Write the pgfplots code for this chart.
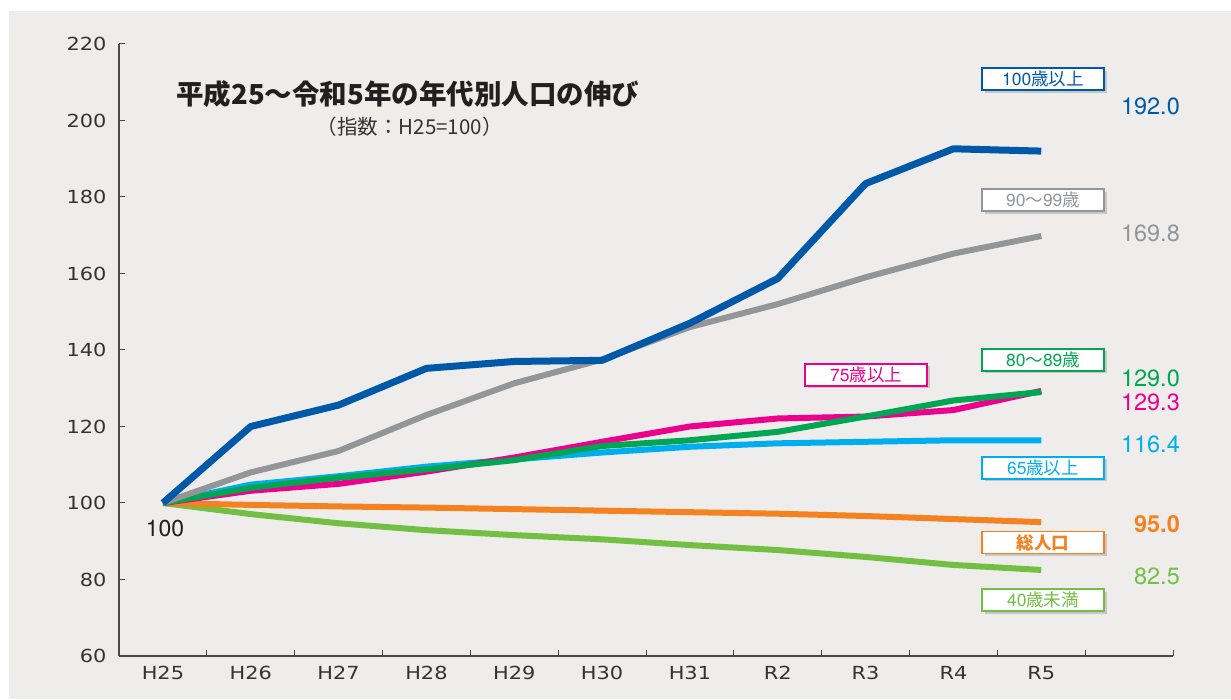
\documentclass[border=0pt]{standalone}
\usepackage{fontspec}
\usepackage{pgfplots}
\pgfplotsset{compat=1.18}
\usetikzlibrary{shadows}
\setmainfont{TeX Gyre Heros}
\newfontfamily\jp{Noto Sans CJK JP}
\newfontfamily\tickf[FakeStretch=1.16]{DejaVu Sans}
\definecolor{bg}{HTML}{EEEDEB}
\definecolor{cblue}{HTML}{0059A8}
\definecolor{cgray}{HTML}{939598}
\definecolor{cgreen}{HTML}{00A651}
\definecolor{cmag}{HTML}{EC008C}
\definecolor{ccyan}{HTML}{00AEEF}
\definecolor{corange}{HTML}{F58220}
\definecolor{clgreen}{HTML}{72BF44}
\definecolor{axisc}{HTML}{4A4A4A}
\definecolor{labc}{HTML}{333333}
\definecolor{titlec}{HTML}{231F20}
\newcommand{\lbox}[4]{\node[draw=#3, line width=1.5pt, fill=white, minimum width=122pt, minimum height=22pt, inner sep=0pt, text=#3, font=\fontsize{17.5}{18}\selectfont, drop shadow={shadow xshift=2.5pt, shadow yshift=-2.5pt, fill=black!40, opacity=0.45}] at (axis cs:#1,#2) {#4};}
\newcommand{\vlab}[3]{\node[anchor=east, inner sep=0pt, text=#3, font=\fontsize{23.5}{24}\selectfont] at (axis cs:11.58,#1) {#2};}
\begin{document}
\begin{tikzpicture}[x=1pt,y=1pt]
\fill[white] (0,0) rectangle (1231,699);
\fill[bg] (9,0) rectangle (1231,688);
\begin{axis}[
  at={(119pt,43pt)}, anchor=south west,
  scale only axis, width=1054pt, height=612pt,
  xmin=-0.5, xmax=11.5, ymin=60, ymax=220,
  axis lines=left,
  axis line style={-, draw=axisc, line width=1.3pt},
  xtick={0,...,10},
  xticklabels={H25,H26,H27,H28,H29,H30,H31,R2,R3,R4,R5},
  minor xtick={0.5,1.5,...,11.5},
  major x tick style={draw=none},
  ytick={60,80,...,220},
  tick align=inside,
  major tick length=6pt, minor tick length=6pt,
  every tick/.style={draw=axisc, line width=1pt},
  /pgf/number format/assume math mode=true,
  ticklabel style={font=\tickf\fontsize{18}{20}\selectfont, text=labc},
  yticklabel style={xshift=-9pt},
  xticklabel style={yshift=-7pt},
  clip=false, no markers,
  every axis plot/.append style={line join=round, line cap=butt},
]
\addplot[draw=clgreen, line width=6pt] coordinates {(0,100) (1,97.1) (2,94.7) (3,92.9) (4,91.6) (5,90.5) (6,89.0) (7,87.7) (8,85.9) (9,83.8) (10,82.5)};
\addplot[draw=corange, line width=6pt] coordinates {(0,100) (1,99.5) (2,99.1) (3,98.8) (4,98.4) (5,98.0) (6,97.6) (7,97.2) (8,96.6) (9,95.8) (10,95.0)};
\addplot[draw=ccyan, line width=6pt] coordinates {(0,100) (1,104.8) (2,107.0) (3,109.5) (4,111.4) (5,113.2) (6,114.7) (7,115.6) (8,116.0) (9,116.4) (10,116.4)};
\addplot[draw=cmag, line width=6pt] coordinates {(0,100) (1,103.2) (2,105.0) (3,108.2) (4,111.9) (5,116.0) (6,120.0) (7,122.1) (8,122.6) (9,124.3) (10,129.3)};
\addplot[draw=cgreen, line width=6pt] coordinates {(0,100) (1,104.0) (2,106.6) (3,108.8) (4,111.2) (5,114.9) (6,116.4) (7,118.6) (8,122.6) (9,126.8) (10,129.0)};
\addplot[draw=cgray, line width=6pt] coordinates {(0,100) (1,108.0) (2,113.6) (3,123.0) (4,131.3) (5,137.5) (6,146.0) (7,152.0) (8,159.0) (9,165.2) (10,169.8)};
\addplot[draw=cblue, line width=7pt] coordinates {(0,100) (1,120.0) (2,125.6) (3,135.2) (4,137.0) (5,137.3) (6,147.0) (7,158.7) (8,183.5) (9,192.6) (10,192.0)};

\node[anchor=west, inner sep=0pt, text=titlec, font=\jp\bfseries\fontsize{27.5}{28}\selectfont] at (axis cs:0.15,206.9) {平成25～令和5年の年代別人口の伸び};
\node[inner sep=0pt, text=labc, font=\jp\fontsize{20.5}{21}\selectfont] at (axis cs:2.81,198.4) {（指数：H25=100）};
\node[inner sep=0pt, text=titlec, font=\fontsize{23}{24}\selectfont] at (axis cs:0.024,93.3) {100};

\lbox{10.02}{210.8}{cblue}{100{\jp 歳以上}}
\lbox{10.02}{179.2}{cgray}{90{\jp ～}99{\jp 歳}}
\lbox{10.02}{137.4}{cgreen}{80{\jp ～}89{\jp 歳}}
\lbox{8.005}{133.5}{cmag}{75{\jp 歳以上}}
\lbox{10.02}{109.2}{ccyan}{65{\jp 歳以上}}
\lbox{10.02}{89.7}{corange}{{\jp\bfseries 総人口}}
\lbox{10.02}{74.6}{clgreen}{40{\jp 歳未満}}

\vlab{203.7}{192.0}{cblue}
\vlab{170.6}{169.8}{cgray}
\vlab{132.7}{129.0}{cgreen}
\vlab{126.3}{129.3}{cmag}
\vlab{115.4}{116.4}{ccyan}
\node[anchor=east, inner sep=0pt, text=corange, font=\bfseries\fontsize{23.5}{24}\selectfont] at (axis cs:11.58,94.5) {95.0};
\vlab{80.8}{82.5}{clgreen}
\end{axis}
\end{tikzpicture}
\end{document}
